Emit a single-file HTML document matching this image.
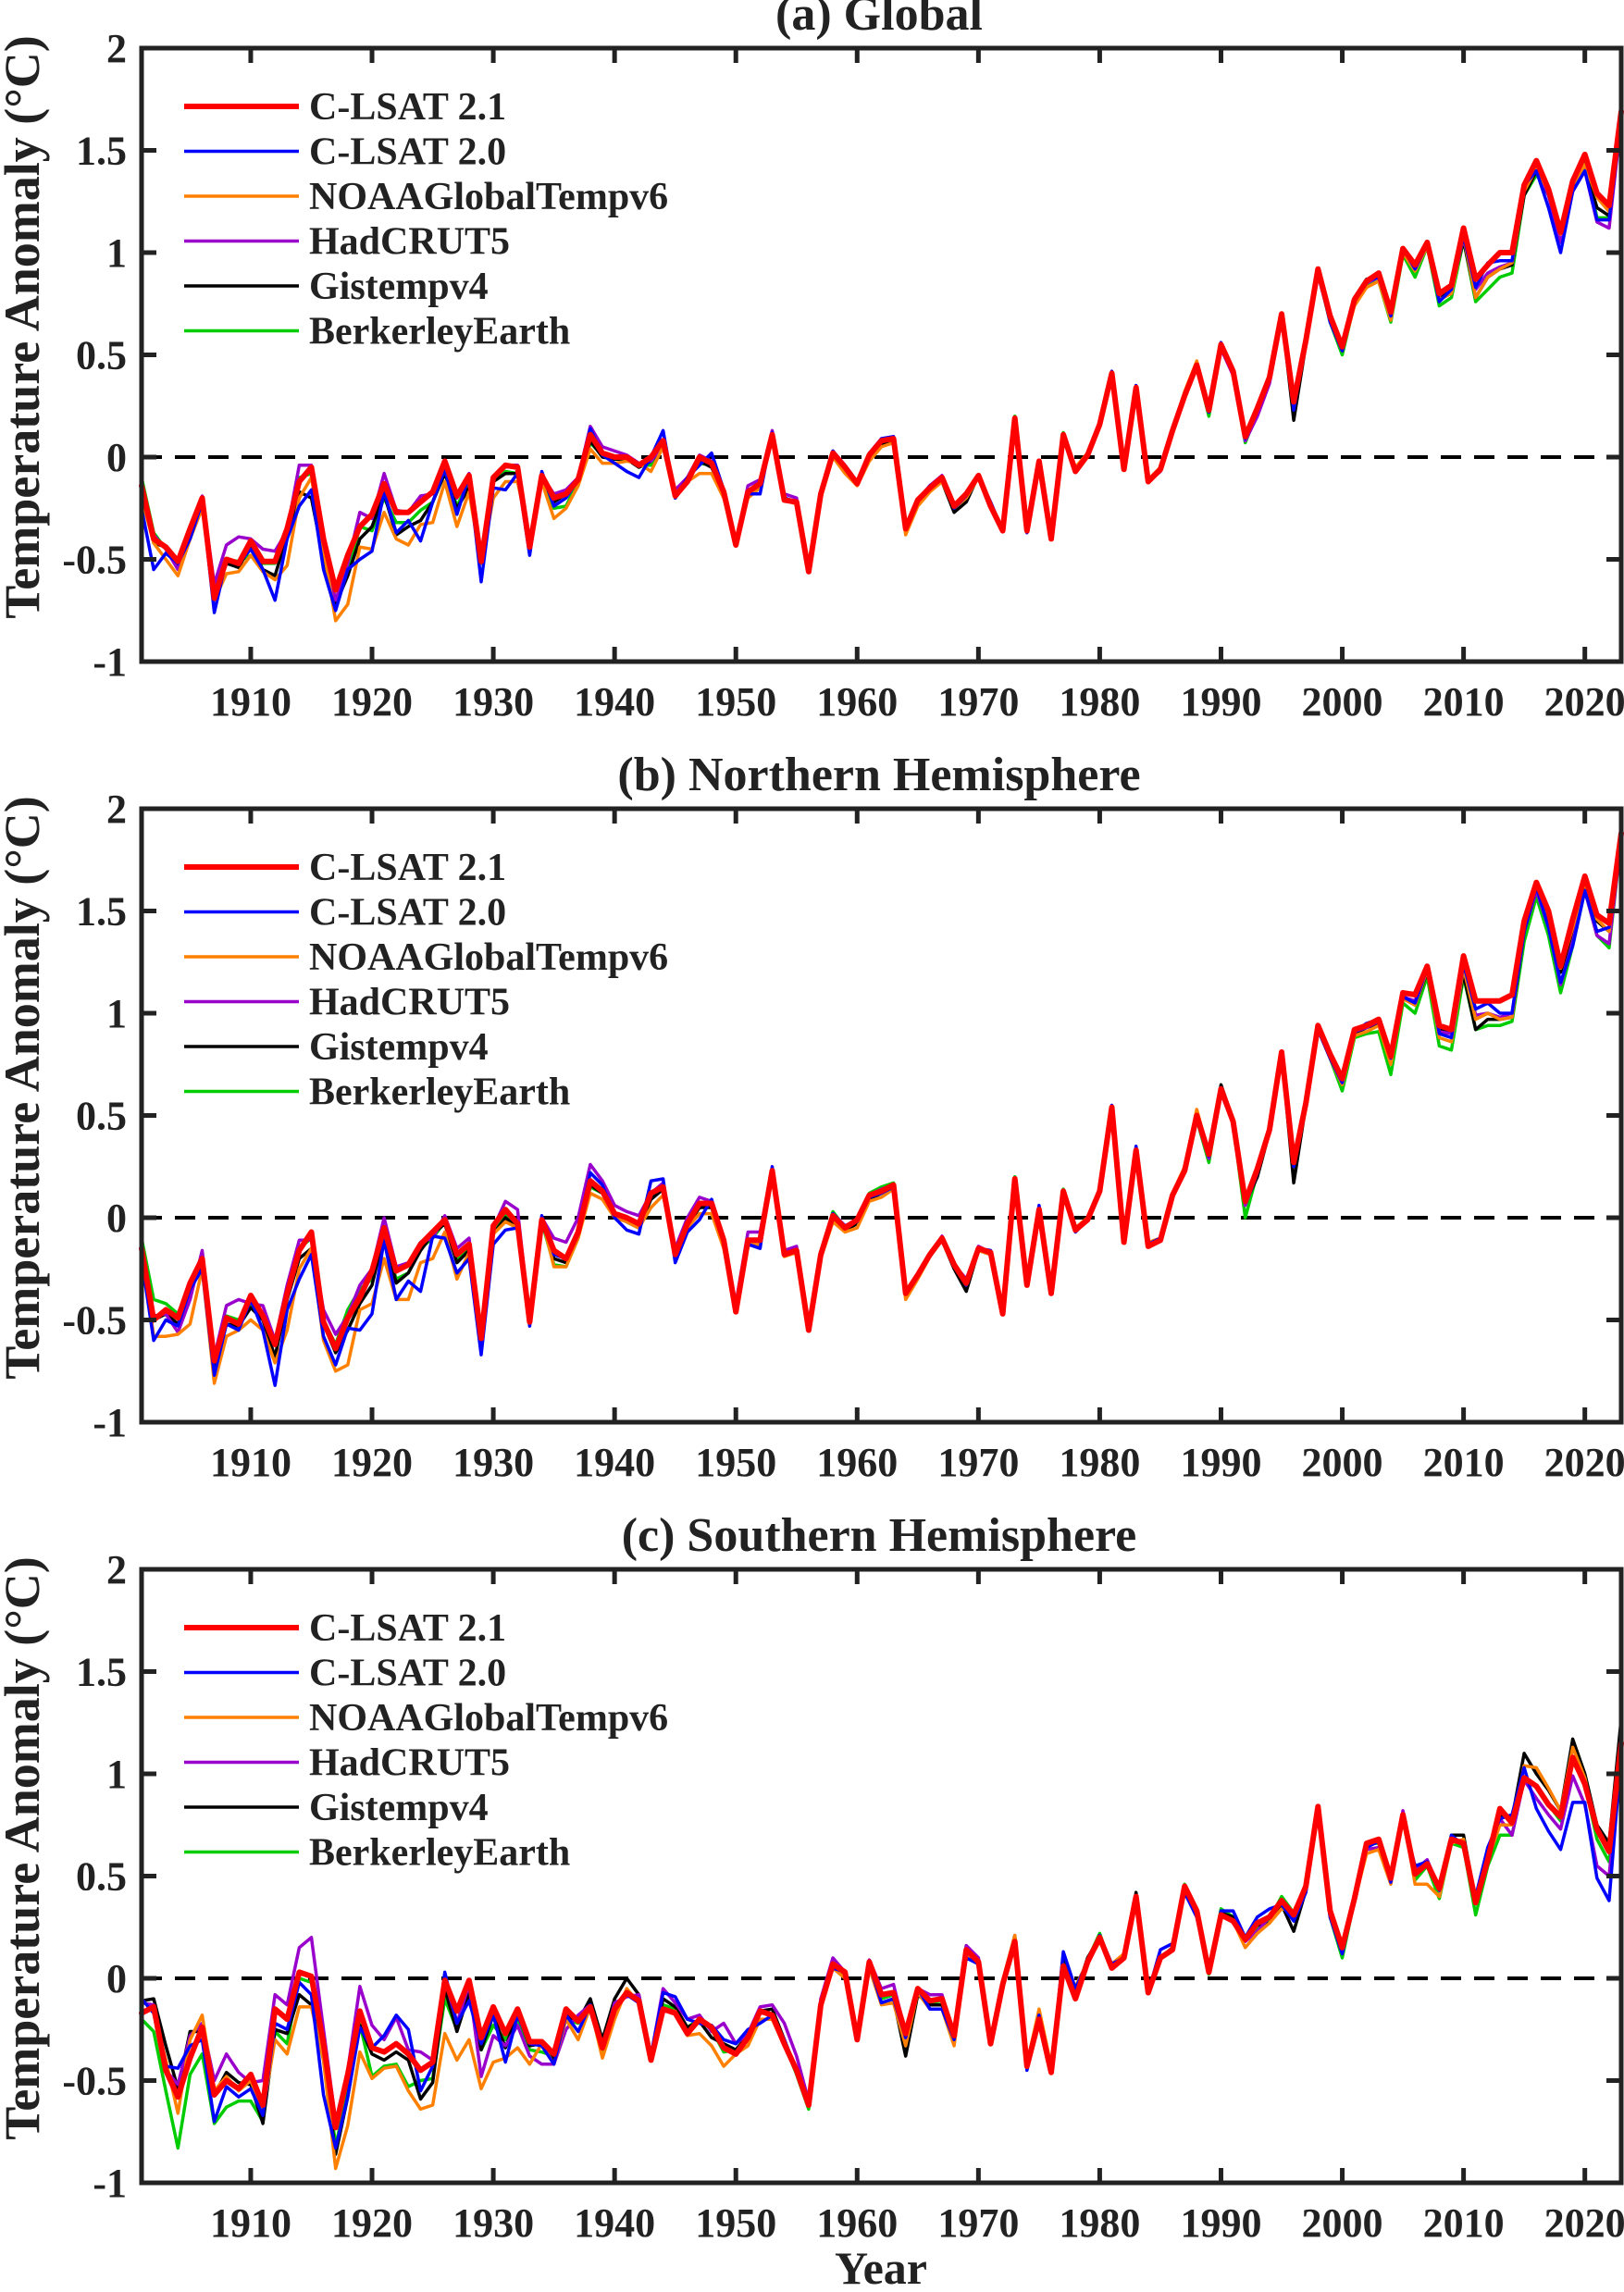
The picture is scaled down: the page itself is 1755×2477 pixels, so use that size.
<!DOCTYPE html>
<html><head><meta charset="utf-8"><style>
html,body{margin:0;padding:0;background:#fff;}
svg{display:block;font-family:"Liberation Serif","Times New Roman",serif;font-weight:bold;}
</style></head><body>
<svg id="fig" width="1755" height="2477" viewBox="0 0 1755 2477" xmlns="http://www.w3.org/2000/svg">
<text x="952" y="2468" font-size="50" text-anchor="middle" fill="#222">Year</text>
</svg>
<script>
const years0 = 1901;
const xTickLabels = [1910,1920,1930,1940,1950,1960,1970,1980,1990,2000,2010,2020];
const yTickLabels = [2,1.5,1,0.5,0,-0.5,-1];
const yTickText = ["2","1.5","1","0.5","0","-0.5","-1"];
const seriesNames = ["C-LSAT 2.1","C-LSAT 2.0","NOAAGlobalTempv6","HadCRUT5","Gistempv4","BerkerleyEarth"];
const panelTitles = ["(a) Global","(b) Northern Hemisphere","(c) Southern Hemisphere"];

const globalClsat21 = [-0.14,-0.40,-0.44,-0.51,-0.35,-0.20,-0.69,-0.50,-0.52,-0.41,-0.51,-0.51,-0.35,-0.12,-0.05,-0.40,-0.65,-0.48,-0.34,-0.28,-0.13,-0.27,-0.27,-0.22,-0.17,-0.02,-0.19,-0.09,-0.51,-0.10,-0.04,-0.05,-0.44,-0.09,-0.20,-0.18,-0.11,0.11,0.02,0.00,0.00,-0.04,0.00,0.08,-0.19,-0.12,0.00,-0.03,-0.17,-0.43,-0.17,-0.13,0.11,-0.21,-0.22,-0.56,-0.18,0.02,-0.05,-0.13,0.01,0.08,0.09,-0.35,-0.21,-0.15,-0.10,-0.24,-0.18,-0.09,-0.24,-0.36,0.19,-0.36,-0.02,-0.40,0.11,-0.07,0.01,0.16,0.41,-0.06,0.34,-0.12,-0.06,0.13,0.30,0.45,0.23,0.55,0.42,0.10,0.24,0.39,0.70,0.27,0.57,0.92,0.69,0.54,0.77,0.86,0.90,0.71,1.02,0.94,1.05,0.80,0.84,1.12,0.87,0.94,1.00,1.00,1.33,1.45,1.31,1.10,1.35,1.48,1.29,1.23,1.69];
const globalClsat20 = [-0.25,-0.55,-0.47,-0.52,-0.40,-0.22,-0.76,-0.50,-0.52,-0.45,-0.55,-0.70,-0.40,-0.24,-0.16,-0.55,-0.75,-0.55,-0.50,-0.46,-0.17,-0.37,-0.31,-0.41,-0.22,-0.06,-0.28,-0.09,-0.61,-0.15,-0.16,-0.08,-0.48,-0.07,-0.24,-0.20,-0.11,0.14,0.01,-0.03,-0.07,-0.10,0.00,0.13,-0.20,-0.10,-0.04,0.02,-0.16,-0.43,-0.18,-0.18,0.12,-0.20,-0.22,-0.56,-0.18,0.03,-0.05,-0.12,0.01,0.09,0.10,-0.34,-0.21,-0.14,-0.10,-0.25,-0.19,-0.09,-0.22,-0.36,0.18,-0.37,-0.02,-0.40,0.11,-0.07,0.01,0.16,0.42,-0.06,0.35,-0.11,-0.06,0.14,0.30,0.45,0.22,0.56,0.42,0.09,0.24,0.38,0.70,0.23,0.57,0.91,0.66,0.52,0.76,0.86,0.88,0.69,1.02,0.92,1.04,0.76,0.82,1.08,0.83,0.95,0.96,0.96,1.33,1.40,1.22,1.00,1.30,1.40,1.16,1.16,1.65];
const globalNoaa = [-0.20,-0.42,-0.50,-0.58,-0.40,-0.25,-0.70,-0.57,-0.56,-0.48,-0.56,-0.60,-0.53,-0.20,-0.10,-0.45,-0.80,-0.72,-0.44,-0.45,-0.27,-0.40,-0.43,-0.33,-0.32,-0.12,-0.34,-0.17,-0.52,-0.20,-0.12,-0.12,-0.40,-0.12,-0.30,-0.25,-0.14,0.04,-0.03,-0.03,-0.02,-0.03,-0.07,0.05,-0.18,-0.12,-0.08,-0.08,-0.20,-0.42,-0.20,-0.15,0.10,-0.21,-0.23,-0.55,-0.20,0.00,-0.08,-0.14,-0.02,0.05,0.07,-0.38,-0.24,-0.17,-0.12,-0.25,-0.20,-0.10,-0.24,-0.36,0.17,-0.36,-0.03,-0.40,0.10,-0.05,0.02,0.17,0.40,-0.05,0.33,-0.11,-0.05,0.13,0.32,0.47,0.24,0.54,0.42,0.11,0.23,0.38,0.68,0.27,0.56,0.90,0.67,0.52,0.74,0.83,0.86,0.67,1.00,0.91,1.03,0.77,0.80,1.08,0.78,0.88,0.92,0.95,1.30,1.41,1.30,1.09,1.31,1.43,1.27,1.20,1.66];
const globalHadcrut = [-0.15,-0.38,-0.45,-0.55,-0.37,-0.19,-0.62,-0.43,-0.39,-0.40,-0.45,-0.46,-0.36,-0.04,-0.04,-0.45,-0.70,-0.52,-0.27,-0.30,-0.08,-0.26,-0.27,-0.19,-0.18,-0.03,-0.20,-0.08,-0.52,-0.10,-0.04,-0.04,-0.45,-0.09,-0.18,-0.16,-0.10,0.15,0.05,0.03,0.01,-0.03,-0.02,0.06,-0.16,-0.10,0.01,-0.02,-0.17,-0.42,-0.14,-0.11,0.13,-0.18,-0.20,-0.55,-0.17,0.03,-0.04,-0.12,0.02,0.09,0.10,-0.34,-0.21,-0.14,-0.09,-0.24,-0.18,-0.10,-0.24,-0.36,0.18,-0.36,-0.02,-0.40,0.10,-0.07,0.01,0.15,0.40,-0.06,0.33,-0.12,-0.07,0.12,0.29,0.44,0.22,0.53,0.40,0.08,0.20,0.36,0.67,0.26,0.56,0.89,0.67,0.53,0.76,0.85,0.88,0.71,1.00,0.93,1.04,0.79,0.84,1.07,0.82,0.90,0.93,0.95,1.30,1.42,1.28,1.05,1.30,1.40,1.15,1.12,1.65];
const globalGistemp = [-0.15,-0.42,-0.44,-0.53,-0.38,-0.20,-0.68,-0.52,-0.54,-0.43,-0.55,-0.58,-0.38,-0.17,-0.20,-0.50,-0.72,-0.58,-0.40,-0.34,-0.18,-0.38,-0.34,-0.31,-0.22,-0.08,-0.25,-0.15,-0.50,-0.12,-0.08,-0.08,-0.42,-0.10,-0.22,-0.18,-0.12,0.08,0.00,-0.01,-0.01,-0.05,-0.02,0.05,-0.20,-0.12,-0.02,-0.05,-0.18,-0.42,-0.16,-0.15,0.10,-0.20,-0.22,-0.55,-0.18,0.02,-0.06,-0.12,0.00,0.06,0.08,-0.35,-0.22,-0.16,-0.12,-0.27,-0.22,-0.09,-0.23,-0.36,0.18,-0.36,-0.02,-0.40,0.11,-0.07,0.01,0.16,0.41,-0.06,0.35,-0.12,-0.06,0.13,0.30,0.45,0.22,0.55,0.42,0.10,0.21,0.38,0.70,0.18,0.55,0.90,0.68,0.52,0.78,0.87,0.88,0.70,1.01,0.93,1.04,0.78,0.82,1.06,0.78,0.88,0.92,0.94,1.28,1.40,1.28,1.07,1.32,1.42,1.22,1.18,1.66];
const globalBerkeley = [-0.10,-0.37,-0.45,-0.52,-0.38,-0.20,-0.65,-0.50,-0.51,-0.48,-0.52,-0.52,-0.40,-0.10,-0.08,-0.45,-0.70,-0.57,-0.34,-0.36,-0.20,-0.32,-0.32,-0.26,-0.22,-0.06,-0.24,-0.12,-0.52,-0.12,-0.07,-0.08,-0.45,-0.10,-0.25,-0.24,-0.12,0.07,0.01,-0.01,-0.01,-0.04,-0.04,0.06,-0.19,-0.11,-0.03,-0.04,-0.18,-0.42,-0.17,-0.14,0.11,-0.20,-0.22,-0.55,-0.17,0.03,-0.05,-0.13,0.02,0.07,0.09,-0.34,-0.21,-0.15,-0.11,-0.24,-0.19,-0.09,-0.23,-0.35,0.20,-0.36,-0.02,-0.40,0.12,-0.07,0.01,0.16,0.40,-0.06,0.33,-0.12,-0.06,0.13,0.30,0.44,0.20,0.53,0.41,0.07,0.22,0.37,0.69,0.26,0.56,0.90,0.66,0.50,0.75,0.84,0.86,0.66,0.99,0.88,1.03,0.74,0.78,1.06,0.76,0.82,0.88,0.90,1.28,1.38,1.30,1.07,1.33,1.45,1.17,1.17,1.66];

const nhClsat21 = [-0.15,-0.50,-0.45,-0.49,-0.32,-0.20,-0.70,-0.49,-0.52,-0.38,-0.48,-0.62,-0.37,-0.16,-0.07,-0.51,-0.64,-0.49,-0.39,-0.26,-0.05,-0.26,-0.23,-0.13,-0.07,-0.01,-0.18,-0.13,-0.59,-0.04,0.04,-0.03,-0.51,-0.01,-0.16,-0.20,-0.07,0.18,0.13,0.02,0.00,-0.03,0.12,0.15,-0.18,-0.03,0.07,0.07,-0.11,-0.46,-0.11,-0.11,0.23,-0.18,-0.16,-0.55,-0.18,0.01,-0.05,-0.01,0.11,0.13,0.16,-0.37,-0.28,-0.18,-0.10,-0.23,-0.32,-0.15,-0.17,-0.47,0.19,-0.33,0.04,-0.37,0.13,-0.06,-0.01,0.13,0.54,-0.12,0.33,-0.14,-0.11,0.11,0.23,0.50,0.31,0.63,0.47,0.08,0.24,0.43,0.81,0.27,0.56,0.94,0.80,0.68,0.92,0.94,0.97,0.79,1.10,1.09,1.23,0.94,0.92,1.28,1.06,1.06,1.06,1.09,1.45,1.64,1.50,1.23,1.46,1.67,1.48,1.44,1.88];
const nhClsat20 = [-0.20,-0.60,-0.50,-0.53,-0.35,-0.25,-0.77,-0.52,-0.55,-0.40,-0.55,-0.82,-0.45,-0.30,-0.18,-0.58,-0.72,-0.54,-0.55,-0.47,-0.11,-0.40,-0.31,-0.36,-0.09,-0.10,-0.27,-0.20,-0.67,-0.13,-0.06,-0.05,-0.53,0.01,-0.18,-0.20,-0.07,0.22,0.16,0.00,-0.06,-0.08,0.18,0.19,-0.22,-0.07,-0.01,0.09,-0.11,-0.46,-0.13,-0.15,0.25,-0.18,-0.16,-0.54,-0.18,0.02,-0.04,-0.02,0.10,0.12,0.15,-0.36,-0.28,-0.19,-0.10,-0.24,-0.33,-0.15,-0.16,-0.46,0.18,-0.33,0.06,-0.36,0.13,-0.07,-0.01,0.14,0.55,-0.11,0.35,-0.13,-0.10,0.12,0.24,0.49,0.30,0.63,0.46,0.08,0.23,0.42,0.80,0.25,0.55,0.92,0.78,0.66,0.91,0.95,0.97,0.78,1.08,1.05,1.22,0.90,0.88,1.24,1.02,1.05,1.00,1.00,1.40,1.62,1.42,1.15,1.33,1.60,1.40,1.42,1.85];
const nhNoaa = [-0.15,-0.58,-0.58,-0.57,-0.52,-0.25,-0.81,-0.58,-0.55,-0.50,-0.55,-0.71,-0.55,-0.25,-0.15,-0.60,-0.75,-0.72,-0.45,-0.42,-0.20,-0.40,-0.40,-0.22,-0.20,-0.07,-0.30,-0.17,-0.55,-0.08,-0.02,-0.05,-0.47,0.00,-0.24,-0.24,-0.10,0.12,0.09,0.00,-0.02,-0.05,0.05,0.11,-0.17,-0.05,0.02,0.02,-0.15,-0.45,-0.13,-0.13,0.20,-0.19,-0.17,-0.54,-0.20,-0.02,-0.07,-0.05,0.08,0.10,0.14,-0.40,-0.30,-0.19,-0.11,-0.24,-0.33,-0.16,-0.18,-0.46,0.17,-0.33,0.03,-0.37,0.13,-0.05,0.00,0.14,0.53,-0.11,0.32,-0.12,-0.10,0.12,0.25,0.53,0.31,0.62,0.46,0.08,0.24,0.43,0.79,0.27,0.56,0.92,0.78,0.65,0.89,0.91,0.94,0.75,1.07,1.04,1.21,0.88,0.86,1.22,0.97,1.00,0.97,0.98,1.42,1.62,1.47,1.22,1.42,1.64,1.46,1.40,1.86];
const nhHadcrut = [-0.15,-0.48,-0.47,-0.56,-0.40,-0.16,-0.68,-0.43,-0.40,-0.42,-0.43,-0.60,-0.33,-0.11,-0.11,-0.45,-0.57,-0.48,-0.33,-0.25,0.00,-0.24,-0.22,-0.12,-0.10,0.01,-0.15,-0.10,-0.58,-0.05,0.08,0.04,-0.50,0.00,-0.10,-0.12,0.00,0.26,0.18,0.06,0.03,0.01,0.12,0.17,-0.15,0.00,0.10,0.08,-0.10,-0.42,-0.07,-0.07,0.24,-0.16,-0.14,-0.53,-0.17,0.02,-0.04,-0.01,0.11,0.14,0.16,-0.36,-0.28,-0.18,-0.09,-0.23,-0.30,-0.14,-0.17,-0.46,0.19,-0.33,0.04,-0.37,0.13,-0.06,-0.01,0.13,0.53,-0.12,0.32,-0.14,-0.11,0.10,0.22,0.48,0.29,0.61,0.46,0.06,0.22,0.42,0.79,0.26,0.56,0.93,0.79,0.67,0.91,0.93,0.96,0.78,1.08,1.06,1.22,0.91,0.90,1.25,0.99,1.00,0.98,1.00,1.40,1.60,1.42,1.14,1.35,1.60,1.38,1.34,1.85];
const nhGistemp = [-0.16,-0.50,-0.47,-0.52,-0.35,-0.22,-0.72,-0.52,-0.53,-0.44,-0.50,-0.68,-0.40,-0.20,-0.15,-0.52,-0.66,-0.55,-0.42,-0.33,-0.08,-0.32,-0.27,-0.16,-0.08,-0.03,-0.22,-0.16,-0.58,-0.08,0.00,-0.05,-0.50,-0.02,-0.20,-0.22,-0.09,0.16,0.12,0.01,-0.02,-0.05,0.09,0.14,-0.19,-0.04,0.05,0.05,-0.12,-0.45,-0.12,-0.14,0.22,-0.18,-0.17,-0.54,-0.18,0.00,-0.06,-0.03,0.09,0.12,0.15,-0.37,-0.28,-0.19,-0.11,-0.25,-0.36,-0.16,-0.18,-0.47,0.18,-0.33,0.04,-0.37,0.13,-0.06,-0.01,0.13,0.53,-0.12,0.32,-0.14,-0.11,0.11,0.23,0.50,0.31,0.65,0.48,0.07,0.20,0.42,0.80,0.17,0.55,0.93,0.80,0.67,0.90,0.93,0.95,0.77,1.08,1.04,1.20,0.92,0.90,1.19,0.92,0.97,0.97,0.98,1.40,1.60,1.45,1.20,1.40,1.62,1.45,1.40,1.85];
const nhBerkeley = [-0.10,-0.40,-0.42,-0.47,-0.33,-0.20,-0.70,-0.48,-0.50,-0.42,-0.47,-0.60,-0.38,-0.15,-0.10,-0.50,-0.62,-0.45,-0.35,-0.30,-0.10,-0.30,-0.27,-0.15,-0.10,-0.02,-0.20,-0.14,-0.58,-0.06,0.02,-0.04,-0.50,-0.02,-0.23,-0.24,-0.10,0.15,0.12,0.01,-0.02,-0.05,0.10,0.14,-0.17,-0.03,0.06,0.05,-0.13,-0.45,-0.12,-0.12,0.22,-0.17,-0.17,-0.54,-0.18,0.03,-0.05,-0.02,0.12,0.15,0.17,-0.36,-0.28,-0.18,-0.10,-0.23,-0.32,-0.15,-0.17,-0.46,0.20,-0.33,0.04,-0.37,0.14,-0.06,-0.01,0.13,0.53,-0.12,0.32,-0.14,-0.11,0.11,0.23,0.48,0.27,0.62,0.46,0.00,0.22,0.42,0.80,0.25,0.55,0.92,0.78,0.62,0.88,0.90,0.91,0.70,1.05,1.00,1.18,0.84,0.82,1.18,0.92,0.94,0.94,0.96,1.35,1.57,1.38,1.10,1.33,1.60,1.38,1.32,1.85];

const shClsat21 = [-0.17,-0.14,-0.45,-0.58,-0.39,-0.24,-0.57,-0.50,-0.54,-0.47,-0.62,-0.15,-0.20,0.03,0.01,-0.32,-0.73,-0.47,-0.16,-0.34,-0.36,-0.32,-0.37,-0.45,-0.41,-0.01,-0.16,-0.01,-0.29,-0.14,-0.27,-0.15,-0.31,-0.31,-0.37,-0.15,-0.21,-0.14,-0.34,-0.15,-0.07,-0.11,-0.40,-0.15,-0.17,-0.27,-0.20,-0.24,-0.34,-0.37,-0.29,-0.16,-0.18,-0.32,-0.45,-0.62,-0.13,0.07,0.03,-0.30,0.08,-0.08,-0.07,-0.27,-0.05,-0.11,-0.10,-0.28,0.14,0.08,-0.32,-0.03,0.18,-0.43,-0.20,-0.46,0.06,-0.10,0.08,0.20,0.05,0.10,0.40,-0.07,0.10,0.14,0.45,0.33,0.03,0.31,0.28,0.19,0.27,0.30,0.38,0.31,0.45,0.84,0.33,0.15,0.39,0.66,0.68,0.49,0.80,0.51,0.56,0.44,0.68,0.66,0.37,0.58,0.83,0.76,0.98,0.94,0.85,0.79,1.08,0.95,0.73,0.62,1.15];
const shClsat20 = [-0.10,-0.17,-0.43,-0.44,-0.33,-0.30,-0.70,-0.53,-0.58,-0.54,-0.67,-0.22,-0.25,-0.02,-0.08,-0.57,-0.83,-0.58,-0.24,-0.34,-0.28,-0.18,-0.25,-0.55,-0.43,0.03,-0.22,-0.11,-0.32,-0.18,-0.41,-0.18,-0.32,-0.33,-0.42,-0.18,-0.26,-0.13,-0.32,-0.14,-0.08,-0.12,-0.38,-0.07,-0.09,-0.20,-0.22,-0.23,-0.30,-0.32,-0.25,-0.22,-0.18,-0.30,-0.45,-0.62,-0.12,0.05,0.03,-0.28,0.07,-0.12,-0.10,-0.29,-0.05,-0.15,-0.15,-0.30,0.10,0.07,-0.32,-0.03,0.17,-0.45,-0.18,-0.46,0.13,-0.05,0.08,0.21,0.07,0.10,0.38,-0.07,0.14,0.17,0.42,0.30,0.03,0.33,0.33,0.20,0.30,0.34,0.36,0.28,0.42,0.82,0.30,0.12,0.38,0.64,0.67,0.47,0.78,0.55,0.57,0.43,0.70,0.65,0.40,0.64,0.78,0.80,1.03,0.83,0.72,0.63,0.86,0.86,0.49,0.38,1.10];
const shNoaa = [-0.10,-0.17,-0.40,-0.66,-0.30,-0.18,-0.55,-0.48,-0.55,-0.50,-0.65,-0.30,-0.37,-0.14,-0.14,-0.40,-0.93,-0.72,-0.36,-0.49,-0.44,-0.43,-0.55,-0.64,-0.62,-0.27,-0.40,-0.30,-0.54,-0.41,-0.39,-0.34,-0.42,-0.32,-0.42,-0.20,-0.30,-0.14,-0.39,-0.20,-0.05,-0.12,-0.37,-0.16,-0.16,-0.28,-0.27,-0.33,-0.43,-0.37,-0.33,-0.20,-0.20,-0.33,-0.45,-0.62,-0.13,0.05,0.00,-0.28,0.05,-0.13,-0.12,-0.33,-0.07,-0.15,-0.15,-0.33,0.12,0.08,-0.32,-0.01,0.21,-0.42,-0.15,-0.43,0.03,-0.04,0.08,0.18,0.07,0.12,0.40,-0.07,0.10,0.14,0.45,0.30,0.03,0.31,0.28,0.15,0.22,0.27,0.34,0.33,0.45,0.80,0.30,0.16,0.38,0.61,0.63,0.46,0.80,0.46,0.46,0.40,0.66,0.68,0.38,0.58,0.75,0.75,1.04,1.03,0.93,0.82,1.13,0.98,0.72,0.63,1.15];
const shHadcrut = [-0.12,-0.13,-0.45,-0.52,-0.28,-0.22,-0.50,-0.37,-0.46,-0.51,-0.50,-0.08,-0.13,0.15,0.20,-0.25,-0.70,-0.45,-0.04,-0.23,-0.30,-0.19,-0.35,-0.36,-0.40,0.00,-0.22,-0.03,-0.48,-0.28,-0.33,-0.23,-0.38,-0.42,-0.42,-0.25,-0.18,-0.13,-0.34,-0.12,-0.09,-0.08,-0.38,-0.05,-0.12,-0.20,-0.18,-0.26,-0.22,-0.32,-0.27,-0.14,-0.13,-0.22,-0.38,-0.60,-0.10,0.10,0.03,-0.30,0.09,-0.05,-0.03,-0.27,-0.05,-0.08,-0.08,-0.28,0.16,0.10,-0.32,-0.03,0.18,-0.43,-0.20,-0.46,0.06,-0.10,0.08,0.20,0.06,0.10,0.40,-0.07,0.10,0.14,0.42,0.30,0.03,0.31,0.28,0.18,0.23,0.30,0.38,0.30,0.45,0.82,0.30,0.15,0.39,0.63,0.64,0.48,0.82,0.53,0.58,0.44,0.68,0.66,0.37,0.60,0.78,0.70,0.97,0.88,0.80,0.73,0.99,0.85,0.55,0.50,1.10];
const shGistemp = [-0.11,-0.10,-0.33,-0.54,-0.26,-0.26,-0.57,-0.46,-0.51,-0.52,-0.71,-0.25,-0.27,-0.08,-0.13,-0.40,-0.86,-0.58,-0.23,-0.37,-0.40,-0.36,-0.40,-0.59,-0.51,-0.05,-0.26,-0.07,-0.35,-0.18,-0.34,-0.17,-0.33,-0.32,-0.40,-0.18,-0.21,-0.10,-0.30,-0.10,0.00,-0.08,-0.38,-0.10,-0.14,-0.24,-0.21,-0.29,-0.32,-0.35,-0.28,-0.16,-0.15,-0.30,-0.46,-0.62,-0.12,0.06,0.02,-0.30,0.05,-0.12,-0.10,-0.38,-0.08,-0.13,-0.13,-0.32,0.14,0.08,-0.32,-0.02,0.21,-0.43,-0.20,-0.46,0.12,-0.08,0.10,0.20,0.05,0.10,0.42,-0.07,0.10,0.15,0.45,0.32,0.03,0.32,0.30,0.20,0.26,0.27,0.36,0.23,0.43,0.82,0.30,0.15,0.39,0.65,0.68,0.49,0.79,0.52,0.56,0.44,0.70,0.70,0.38,0.60,0.80,0.78,1.10,1.00,0.92,0.82,1.17,1.00,0.75,0.66,1.27];
const shBerkeley = [-0.20,-0.26,-0.55,-0.83,-0.47,-0.37,-0.71,-0.63,-0.60,-0.60,-0.70,-0.26,-0.32,0.00,-0.02,-0.35,-0.82,-0.55,-0.22,-0.48,-0.43,-0.42,-0.53,-0.50,-0.49,-0.10,-0.25,-0.05,-0.35,-0.23,-0.30,-0.20,-0.35,-0.36,-0.38,-0.20,-0.22,-0.14,-0.35,-0.15,-0.08,-0.11,-0.40,-0.13,-0.15,-0.24,-0.20,-0.25,-0.36,-0.35,-0.28,-0.16,-0.18,-0.32,-0.47,-0.64,-0.12,0.07,0.02,-0.30,0.07,-0.10,-0.08,-0.30,-0.05,-0.12,-0.11,-0.32,0.16,0.09,-0.32,-0.03,0.19,-0.43,-0.19,-0.46,0.06,-0.10,0.09,0.22,0.05,0.10,0.40,-0.07,0.10,0.14,0.46,0.32,0.02,0.34,0.30,0.20,0.25,0.29,0.40,0.32,0.45,0.82,0.30,0.10,0.38,0.66,0.66,0.47,0.80,0.48,0.55,0.39,0.66,0.64,0.31,0.55,0.70,0.70,0.98,0.94,0.85,0.77,1.06,0.95,0.68,0.57,1.12];

const NS = "http://www.w3.org/2000/svg";
const svg = document.getElementById('fig');
const X0 = 153, X1 = 1752, XMIN = 1901, XMAX = 2023, YMIN = -1, YMAX = 2, PH = 663;
const colors = ["#ff0000","#0000ff","#ff8000","#9900cc","#000000","#00cc00"];
const widths = [6,3.5,3.5,3.5,3.5,3.5];
const drawOrder = [5,4,3,2,1,0];
const panels = [
  {top:52, key:'global', data:[globalClsat21,globalClsat20,globalNoaa,globalHadcrut,globalGistemp,globalBerkeley]},
  {top:874, key:'nh', data:[nhClsat21,nhClsat20,nhNoaa,nhHadcrut,nhGistemp,nhBerkeley]},
  {top:1696, key:'sh', data:[shClsat21,shClsat20,shNoaa,shHadcrut,shGistemp,shBerkeley]}
];
function xs(yr){ return X0 + (yr - XMIN) * (X1 - X0) / (XMAX - XMIN); }
function mk(tag, attrs, parent){ const e = document.createElementNS(NS, tag); for (const k in attrs) e.setAttribute(k, attrs[k]); (parent||svg).appendChild(e); return e; }

panels.forEach((p, pi) => {
  const ys = v => p.top + (YMAX - v) * PH / (YMAX - YMIN);
  const bottom = p.top + PH;
  const g = mk('g', {});
  
  

  const title = mk('text', {x:950, y:p.top - 20, 'font-size':52, 'text-anchor':'middle', fill:'#222'}, g);
  title.textContent = panelTitles[pi];
  
  

  const yl = mk('text', {x:0, y:0, 'font-size':54, 'text-anchor':'middle', fill:'#222', transform:'translate(42,' + (p.top + PH/2 - 30) + ') rotate(-90)'}, g);
  yl.textContent = 'Temperature Anomaly (°C)';
  
  

  // zero line
  const z = mk('line', {x1:X0, x2:X1, y1:ys(0), y2:ys(0), stroke:'#000', 'stroke-width':4, 'stroke-dasharray':'22 14'}, g);
  
  

  // series
  drawOrder.forEach(si => {
    const arr = p.data[si];
    const pts = arr.map((v, i) => xs(XMIN + i).toFixed(1) + ',' + ys(v).toFixed(1)).join(' ');
    const pl = mk('polyline', {points:pts, fill:'none', stroke:colors[si], 'stroke-width':widths[si], 'stroke-linejoin':'round', 'stroke-linecap':'round'}, g);
    
    
  });

  // ticks
  xTickLabels.forEach(t => {
    const x = xs(t);
    mk('line', {x1:x, x2:x, y1:bottom, y2:bottom - 16, stroke:'#222', 'stroke-width':5}, g);
    mk('line', {x1:x, x2:x, y1:p.top, y2:p.top + 16, stroke:'#222', 'stroke-width':5}, g);
    const tl = mk('text', {x:x, y:bottom + 58, 'font-size':44, 'text-anchor':'middle', fill:'#222'}, g);
    tl.textContent = String(t);
    
    
  });
  yTickLabels.forEach((t, i) => {
    const y = ys(t);
    mk('line', {x1:X0, x2:X0 + 16, y1:y, y2:y, stroke:'#222', 'stroke-width':5}, g);
    mk('line', {x1:X1, x2:X1 - 16, y1:y, y2:y, stroke:'#222', 'stroke-width':5}, g);
    const tl = mk('text', {x:137, y:y + 15, 'font-size':44, 'text-anchor':'end', fill:'#222'}, g);
    tl.textContent = yTickText[i];
    
    
  });

  const frame = mk('rect', {x:X0, y:p.top, width:X1 - X0, height:PH, fill:'none', stroke:'#222', 'stroke-width':5}, g);
  
  

  // legend
  const lg = mk('g', {}, g);
  
  
  seriesNames.forEach((n, si) => {
    const cy = p.top + 63 + si * 48.5;
    const ent = mk('g', {}, lg);
    
    
    mk('line', {x1:199, x2:323, y1:cy, y2:cy, stroke:colors[si], 'stroke-width':si === 0 ? 6 : 3.5}, ent);
    const t = mk('text', {x:334, y:cy + 14, 'font-size':42, fill:'#222'}, ent);
    t.textContent = n;
  });
});
</script>
</body></html>
